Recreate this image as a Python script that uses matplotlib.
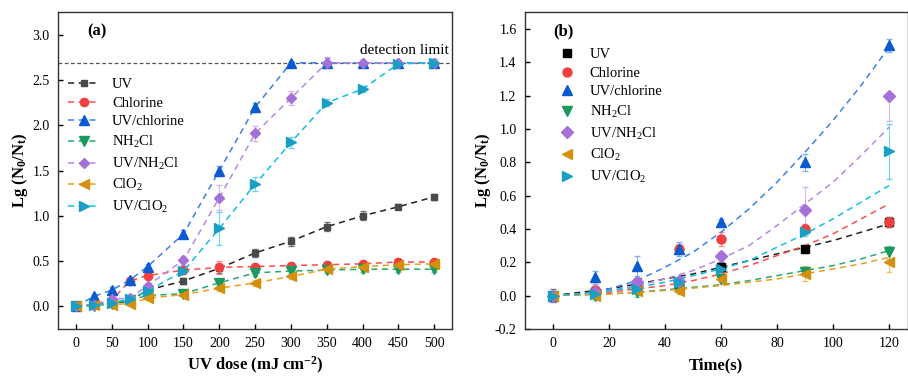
import matplotlib.pyplot as plt
import numpy as np

plt.rcParams['font.family'] = 'Liberation Serif'
plt.rcParams['mathtext.fontset'] = 'custom'
plt.rcParams['mathtext.rm'] = 'Liberation Serif'
plt.rcParams['mathtext.it'] = 'Liberation Serif:italic'
plt.rcParams['mathtext.bf'] = 'Liberation Serif:bold'

labels = ['UV', 'Chlorine', 'UV/chlorine', 'NH$_2$Cl', 'UV/NH$_2$Cl', 'ClO$_2$', 'UV/ClO$_2$']
markers = ['s', 'o', '^', 'v', 'D', '<', '>']
marker_colors_a = ['#4a4a4a', '#f04040', '#0a5ad0', '#1a9a5e', '#a570d8', '#d4900c', '#1a9fc4']
marker_colors_b = ['#000000', '#f04040', '#0a5ad0', '#1a9a5e', '#a570d8', '#d4900c', '#1a9fc4']
line_colors = ['#222222', '#ff4d4d', '#3a80f0', '#2aa870', '#b888e8', '#e8a020', '#10c0e0']

# ---- panel (a): UV dose
dose = [0, 25, 50, 75, 100, 150, 200, 250, 300, 350, 400, 450, 500]
a_uv = [0, 0.02, 0.03, 0.06, 0.18, 0.28, 0.42, 0.59, 0.72, 0.88, 1.0, 1.10, 1.21]
a_cl = [0, 0.02, 0.07, 0.28, 0.34, 0.40, 0.43, 0.44, 0.45, 0.46, 0.47, 0.49, 0.49]
a_uvcl = [0, 0.11, 0.18, 0.29, 0.44, 0.80, 1.50, 2.20, 2.69, 2.69, 2.69, 2.69, 2.69]
a_nh2cl = [0, 0.0, 0.03, 0.07, 0.12, 0.14, 0.26, 0.37, 0.39, 0.40, 0.41, 0.41, 0.41]
a_uvnh2cl = [0, 0.02, 0.08, 0.09, 0.23, 0.51, 1.20, 1.91, 2.30, 2.69, 2.69, 2.69, 2.69]
a_clo2 = [0, 0.01, 0.02, 0.03, 0.09, 0.13, 0.20, 0.26, 0.33, 0.41, 0.44, 0.46, 0.47]
a_uvclo2 = [0, 0.01, 0.04, 0.08, 0.17, 0.39, 0.86, 1.35, 1.81, 2.25, 2.40, 2.68, 2.69]
a_err_uv = [0.02, 0.02, 0.02, 0.02, 0.03, 0.03, 0.05, 0.04, 0.05, 0.05, 0.05, 0.03, 0.03]
a_err_cl = [0.02, 0.02, 0.02, 0.03, 0.03, 0.03, 0.07, 0.03, 0.03, 0.03, 0.03, 0.03, 0.03]
a_err_uvcl = [0.02, 0.03, 0.03, 0.03, 0.03, 0.04, 0.05, 0.05, 0.02, 0.05, 0.03, 0.03, 0.04]
a_err_nh2cl = [0.02, 0.02, 0.02, 0.02, 0.02, 0.02, 0.03, 0.03, 0.03, 0.03, 0.03, 0.03, 0.03]
a_err_uvnh2cl = [0.02, 0.02, 0.02, 0.02, 0.03, 0.05, 0.14, 0.08, 0.08, 0.06, 0.03, 0.03, 0.04]
a_err_clo2 = [0.02, 0.02, 0.02, 0.02, 0.02, 0.02, 0.03, 0.03, 0.03, 0.03, 0.03, 0.03, 0.03]
a_err_uvclo2 = [0.02, 0.02, 0.02, 0.02, 0.03, 0.03, 0.18, 0.08, 0.06, 0.04, 0.03, 0.03, 0.04]
detection_limit = 2.69

# ---- panel (b): time
time_s = [0, 15, 30, 45, 60, 90, 120]
b_uv = [0, 0.02, 0.07, 0.07, 0.17, 0.28, 0.44]
b_cl = [0, 0.035, 0.08, 0.28, 0.34, 0.40, 0.44]
b_uvcl = [0, 0.11, 0.18, 0.28, 0.44, 0.80, 1.50]
b_nh2cl = [0, 0.0, 0.02, 0.04, 0.10, 0.14, 0.26]
b_uvnh2cl = [0, 0.02, 0.08, 0.09, 0.24, 0.515, 1.20]
b_clo2 = [0, 0.0, 0.03, 0.03, 0.10, 0.13, 0.20]
b_uvclo2 = [0, 0.01, 0.04, 0.08, 0.16, 0.38, 0.865]
b_err_uv = [0.04, 0.02, 0.02, 0.02, 0.03, 0.02, 0.03]
b_err_cl = [0.02, 0.02, 0.02, 0.03, 0.04, 0.03, 0.03]
b_err_uvcl = [0.02, 0.04, 0.06, 0.04, 0.02, 0.05, 0.04]
b_err_nh2cl = [0.02, 0.02, 0.03, 0.02, 0.02, 0.02, 0.04]
b_err_uvnh2cl_lo = [0.02, 0.02, 0.02, 0.02, 0.02, 0.135, 0.15]
b_err_uvnh2cl_hi = [0.02, 0.02, 0.02, 0.02, 0.02, 0.135, 0.0]
b_err_clo2 = [0.02, 0.02, 0.02, 0.02, 0.03, 0.045, 0.06]
b_err_uvclo2 = [0.02, 0.02, 0.02, 0.02, 0.02, 0.02, 0.165]

# fitted curves in (b), every 10 s
fit_t = [0, 10, 20, 30, 40, 50, 60, 70, 80, 90, 100, 110, 120]
fit_uv = [0, 0.02, 0.04, 0.07, 0.10, 0.13, 0.17, 0.21, 0.25, 0.29, 0.33, 0.38, 0.43]
fit_cl = [0, 0.005, 0.02, 0.04, 0.06, 0.09, 0.13, 0.18, 0.24, 0.30, 0.37, 0.46, 0.55]
fit_uvcl = [0, 0.01, 0.04, 0.09, 0.17, 0.26, 0.38, 0.52, 0.68, 0.86, 1.05, 1.26, 1.49]
fit_nh2cl = [0, 0.005, 0.01, 0.02, 0.035, 0.05, 0.065, 0.09, 0.12, 0.15, 0.18, 0.22, 0.27]
fit_uvnh2cl = [0, 0.01, 0.03, 0.06, 0.10, 0.15, 0.22, 0.30, 0.42, 0.55, 0.68, 0.84, 1.01]
fit_clo2 = [0, 0.005, 0.01, 0.02, 0.03, 0.045, 0.06, 0.08, 0.10, 0.13, 0.16, 0.19, 0.23]
fit_uvclo2 = [0, 0.01, 0.03, 0.05, 0.08, 0.12, 0.16, 0.21, 0.29, 0.37, 0.46, 0.56, 0.66]

a_series = [a_uv, a_cl, a_uvcl, a_nh2cl, a_uvnh2cl, a_clo2, a_uvclo2]
a_errs = [a_err_uv, a_err_cl, a_err_uvcl, a_err_nh2cl, a_err_uvnh2cl, a_err_clo2, a_err_uvclo2]
b_series = [b_uv, b_cl, b_uvcl, b_nh2cl, b_uvnh2cl, b_clo2, b_uvclo2]
b_errs = [b_err_uv, b_err_cl, b_err_uvcl, b_err_nh2cl,
          [b_err_uvnh2cl_lo, b_err_uvnh2cl_hi], b_err_clo2, b_err_uvclo2]
fits = [fit_uv, fit_cl, fit_uvcl, fit_nh2cl, fit_uvnh2cl, fit_clo2, fit_uvclo2]

fig = plt.figure(figsize=(9.08, 3.79), dpi=100)
ax1 = fig.add_axes([0.064, 0.132, 0.434, 0.836])
ax2 = fig.add_axes([0.578, 0.132, 0.4215, 0.836])

msize = [5, 6, 6.5, 6.5, 5.5, 6.5, 6.5]

# Panel (a)
for i in range(7):
    ax1.errorbar(dose, a_series[i], yerr=a_errs[i], fmt='none', ecolor=line_colors[i],
                 elinewidth=0.8, capsize=2.5, alpha=0.6, zorder=2)
    ax1.plot(dose, a_series[i], linestyle=(0, (4, 3)), color=line_colors[i], lw=1.1,
             marker=markers[i], ms=msize[i], mfc=marker_colors_a[i], mec=marker_colors_a[i],
             label=labels[i], zorder=3)
ax1.axhline(detection_limit, color='#555555', ls=(0, (3, 2)), lw=0.9, zorder=1)
ax1.text(520, detection_limit + 0.06, 'detection limit', ha='right', va='bottom', fontsize=11)
ax1.text(0.075, 0.965, '(a)', transform=ax1.transAxes, fontsize=12, fontweight='bold',
         ha='left', va='top')
ax1.set_xlim(-25, 525)
ax1.set_ylim(-0.25, 3.25)
ax1.set_xticks(np.arange(0, 501, 50))
ax1.set_yticks(np.arange(0, 3.01, 0.5))
ax1.yaxis.set_major_formatter(plt.FormatStrFormatter('%.1f'))
ax1.set_xlabel('UV dose (mJ cm$^{\\mathbf{-2}}$)', fontsize=12, fontweight='bold', labelpad=3)
ax1.set_ylabel('Lg (N$_\\mathbf{0}$/N$_\\mathbf{t}$)', fontsize=12, fontweight='bold', labelpad=2)
ax1.legend(loc='upper left', bbox_to_anchor=(0.0, 0.825), frameon=False, fontsize=10.5,
           handlelength=2.2, labelspacing=0.38, borderaxespad=0.3)

# Panel (b)
for i in range(7):
    ax2.errorbar(time_s, b_series[i], yerr=b_errs[i], fmt='none', ecolor=line_colors[i],
                 elinewidth=0.8, capsize=2.5, alpha=0.6, zorder=2)
    ax2.plot(time_s, b_series[i], linestyle='none', marker=markers[i], ms=msize[i] + 0.5,
             mfc=marker_colors_b[i], mec=marker_colors_b[i], label=labels[i], zorder=3)
    ax2.plot(fit_t, fits[i], linestyle=(0, (4, 3)), color=line_colors[i], lw=1.1, zorder=2.5)
ax2.text(0.075, 0.965, '(b)', transform=ax2.transAxes, fontsize=12, fontweight='bold',
         ha='left', va='top')
ax2.set_xlim(-10, 126.6)
ax2.set_ylim(-0.2, 1.7)
ax2.set_xticks(np.arange(0, 121, 20))
ax2.set_yticks(np.arange(-0.2, 1.61, 0.2))
ax2.yaxis.set_major_formatter(plt.FormatStrFormatter('%.1f'))
ax2.set_xlabel('Time(s)', fontsize=12, fontweight='bold', labelpad=5)
ax2.set_ylabel('Lg (N$_\\mathbf{0}$/N$_\\mathbf{t}$)', fontsize=12, fontweight='bold', labelpad=1)
ax2.legend(loc='upper left', bbox_to_anchor=(0.055, 0.92), frameon=False, fontsize=10.5,
           handlelength=1.5, labelspacing=0.38, borderaxespad=0.3)

for ax in (ax1, ax2):
    ax.tick_params(direction='in', length=3.5, width=1, labelsize=10, pad=6)
    for s in ax.spines.values():
        s.set_linewidth(1.0)
        s.set_color('#333333')

fig.savefig('out.png', dpi=100)
